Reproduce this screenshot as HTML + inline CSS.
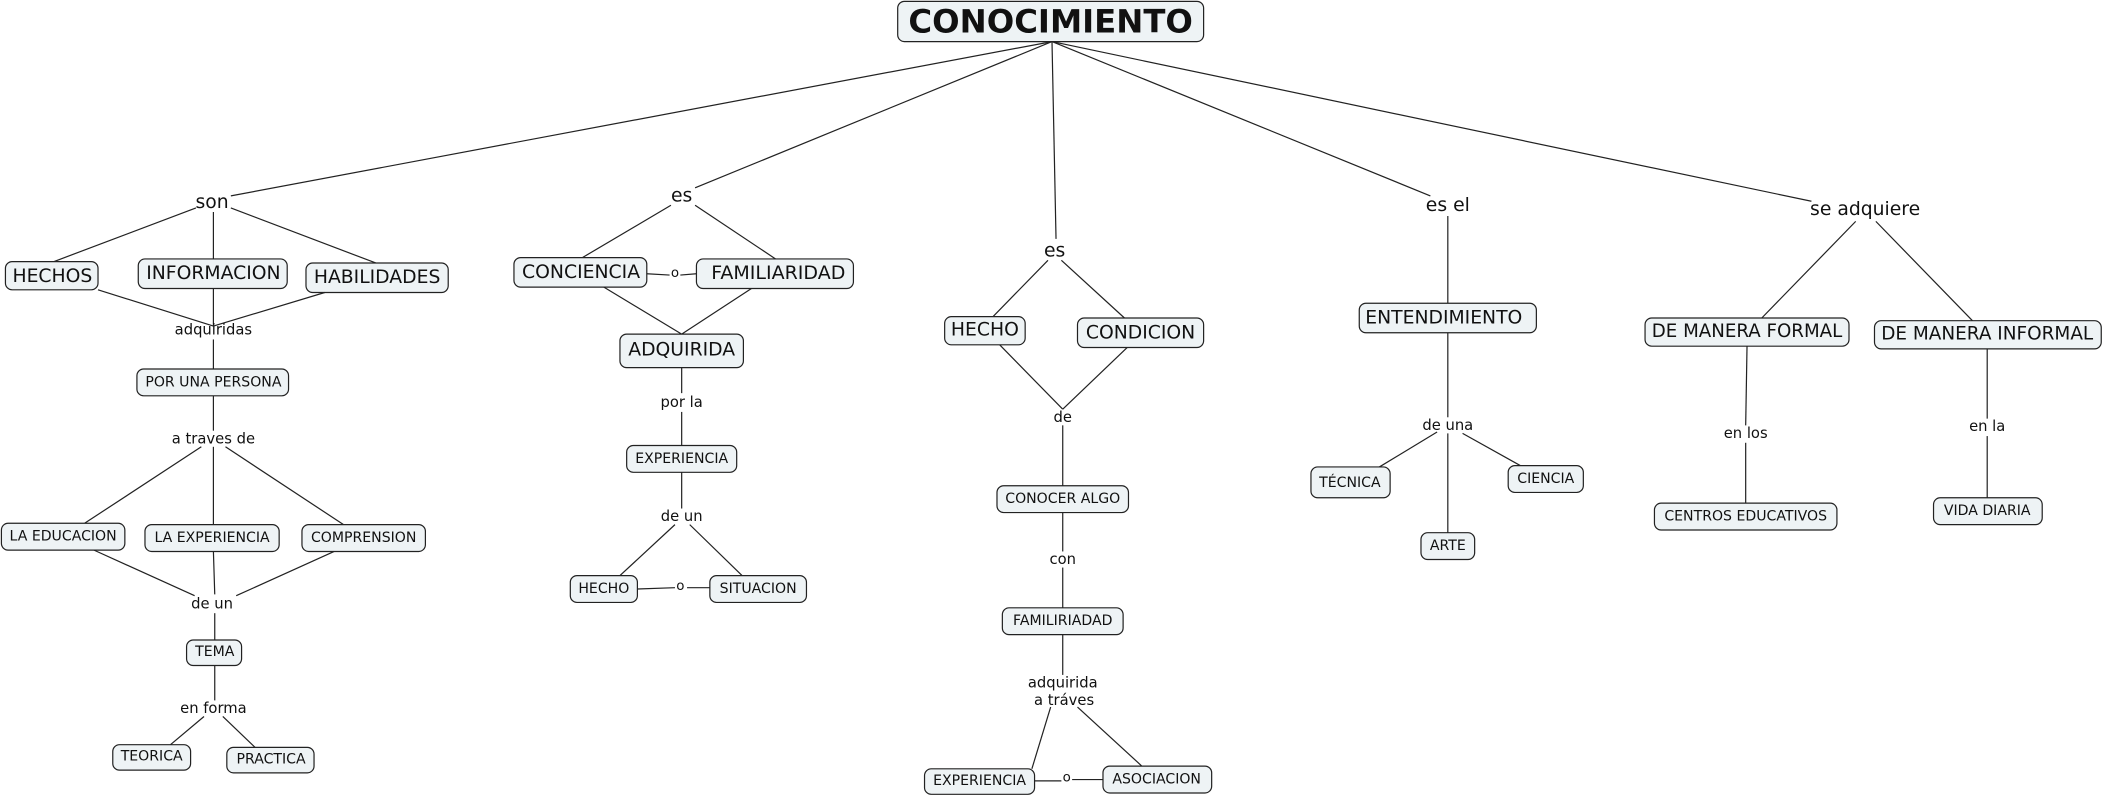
<!DOCTYPE html>
<html><head><meta charset="utf-8"><style>
html,body{margin:0;padding:0;background:#fff;}
svg{display:block;}
text{font-family:"DejaVu Sans","Liberation Sans",sans-serif;fill:#111;text-anchor:middle;dominant-baseline:central;}
rect{fill:#eef3f5;stroke:#222;stroke-width:0.9;}
line{stroke:#222;stroke-width:0.9;}
</style></head><body>
<svg width="2104" height="797" viewBox="0 0 1568 594" xmlns="http://www.w3.org/2000/svg">
<line x1="784" y1="31" x2="172" y2="146"/>
<line x1="784" y1="31" x2="518" y2="140"/>
<line x1="784" y1="31" x2="787" y2="178"/>
<line x1="784" y1="31" x2="1066" y2="146"/>
<line x1="784" y1="31" x2="1350" y2="150"/>
<rect x="669" y="1" width="228" height="30" rx="5"/>
<text x="783" y="16" style="font-size:24px;font-weight:bold" textLength="212" lengthAdjust="spacingAndGlyphs">CONOCIMIENTO</text>

<text x="158" y="151" style="font-size:14px">son</text>
<line x1="146" y1="155" x2="40" y2="195"/>
<line x1="159" y1="158" x2="159" y2="193"/>
<line x1="172" y1="155" x2="280" y2="196"/>
<rect x="4" y="195" width="69" height="21" rx="5"/><text x="39" y="206" style="font-size:14px">HECHOS</text>
<rect x="103" y="193" width="111" height="22" rx="5"/><text x="159" y="204" style="font-size:14px">INFORMACION</text>
<rect x="228" y="196" width="106" height="22" rx="5"/><text x="281" y="207" style="font-size:14px">HABILIDADES</text>
<line x1="73" y1="216" x2="159" y2="243"/>
<line x1="159" y1="215" x2="159" y2="243"/>
<line x1="242" y1="218" x2="159" y2="243"/>
<text x="159" y="246" style="font-size:11px">adquiridas</text>
<line x1="159" y1="253" x2="159" y2="275"/>
<rect x="102" y="275" width="113" height="20" rx="5"/><text x="159" y="285" style="font-size:10.5px">POR UNA PERSONA</text>
<line x1="159" y1="295" x2="159" y2="321"/>
<text x="159" y="327" style="font-size:11px">a traves de</text>
<line x1="150" y1="333" x2="63" y2="390"/>
<line x1="159" y1="333" x2="159" y2="391"/>
<line x1="168" y1="333" x2="256" y2="391"/>
<rect x="1" y="390" width="92" height="20" rx="5"/><text x="47" y="400" style="font-size:10.5px">LA EDUCACION</text>
<rect x="108" y="391" width="100" height="20" rx="5"/><text x="158" y="401" style="font-size:10.5px">LA EXPERIENCIA</text>
<rect x="225" y="391" width="92" height="20" rx="5"/><text x="271" y="401" style="font-size:10.5px">COMPRENSION</text>
<line x1="70" y1="410" x2="145" y2="444"/>
<line x1="159" y1="411" x2="160" y2="443"/>
<line x1="249" y1="411" x2="176" y2="444"/>
<text x="158" y="450" style="font-size:11px">de un</text>
<line x1="160" y1="457" x2="160" y2="477"/>
<rect x="139" y="477" width="41" height="19" rx="5"/><text x="160" y="486" style="font-size:10.5px">TEMA</text>
<line x1="160" y1="496" x2="160" y2="522"/>
<text x="159" y="528" style="font-size:11px">en forma</text>
<line x1="152" y1="534" x2="127" y2="555"/>
<line x1="166" y1="534" x2="190" y2="557"/>
<rect x="84" y="555" width="58" height="19" rx="5"/><text x="113" y="564" style="font-size:10.5px">TEORICA</text>
<rect x="169" y="557" width="65" height="19" rx="5"/><text x="202" y="566" style="font-size:10.5px">PRACTICA</text>

<text x="508" y="146" style="font-size:14px">es</text>
<line x1="500" y1="153" x2="434" y2="192"/>
<line x1="518" y1="153" x2="578" y2="193"/>
<rect x="383" y="192" width="99" height="22" rx="5"/><text x="433" y="203" style="font-size:14px" textLength="88" lengthAdjust="spacingAndGlyphs">CONCIENCIA</text>
<rect x="519" y="193" width="117" height="22" rx="5"/><text x="580" y="204" style="font-size:14px" textLength="100" lengthAdjust="spacingAndGlyphs">FAMILIARIDAD</text>
<line x1="482" y1="204" x2="499" y2="205"/><line x1="507" y1="205" x2="519" y2="204"/>
<text x="503" y="204" style="font-size:10px">o</text>
<line x1="450" y1="214" x2="508" y2="249"/>
<line x1="560" y1="215" x2="508" y2="249"/>
<rect x="462" y="249" width="92" height="25" rx="5"/><text x="508" y="261" style="font-size:14px">ADQUIRIDA</text>
<line x1="508" y1="274" x2="508" y2="293"/>
<text x="508" y="300" style="font-size:11px">por la</text>
<line x1="508" y1="307" x2="508" y2="332"/>
<rect x="467" y="332" width="82" height="20" rx="5"/><text x="508" y="342" style="font-size:10.5px">EXPERIENCIA</text>
<line x1="508" y1="352" x2="508" y2="379"/>
<text x="508" y="385" style="font-size:11px">de un</text>
<line x1="503" y1="391" x2="462" y2="429"/>
<line x1="514" y1="391" x2="553" y2="429"/>
<rect x="425" y="429" width="50" height="20" rx="5"/><text x="450" y="439" style="font-size:10.5px">HECHO</text>
<rect x="529" y="429" width="72" height="20" rx="5"/><text x="565" y="439" style="font-size:10.5px">SITUACION</text>
<line x1="475" y1="439" x2="503" y2="438"/><line x1="512" y1="438" x2="529" y2="438"/>
<text x="507" y="437" style="font-size:10px">o</text>

<text x="786" y="187" style="font-size:14px">es</text>
<line x1="781" y1="194" x2="740" y2="236"/>
<line x1="791" y1="194" x2="838" y2="237"/>
<rect x="704" y="236" width="60" height="21" rx="5"/><text x="734" y="246" style="font-size:14px">HECHO</text>
<rect x="803" y="237" width="94" height="22" rx="5"/><text x="850" y="248" style="font-size:14px">CONDICION</text>
<line x1="745" y1="257" x2="792" y2="305"/>
<line x1="840" y1="259" x2="792" y2="305"/>
<text x="792" y="311" style="font-size:11px">de</text>
<line x1="792" y1="317" x2="792" y2="362"/>
<rect x="743" y="362" width="98" height="20" rx="5"/><text x="792" y="372" style="font-size:10.5px">CONOCER ALGO</text>
<line x1="792" y1="382" x2="792" y2="411"/>
<text x="792" y="417" style="font-size:11px">con</text>
<line x1="792" y1="423" x2="792" y2="453"/>
<rect x="747" y="453" width="90" height="20" rx="5"/><text x="792" y="463" style="font-size:10.5px">FAMILIRIADAD</text>
<line x1="792" y1="473" x2="792" y2="503"/>
<text x="792" y="509" style="font-size:11px">adquirida</text>
<text x="793" y="522" style="font-size:11px">a tráves</text>
<line x1="783" y1="527" x2="769" y2="573"/>
<line x1="803" y1="527" x2="851" y2="571"/>
<rect x="689" y="573" width="82" height="19" rx="5"/><text x="730" y="582" style="font-size:10.5px">EXPERIENCIA</text>
<rect x="822" y="571" width="81" height="20" rx="5"/><text x="862" y="581" style="font-size:10.5px">ASOCIACION</text>
<line x1="771" y1="582" x2="791" y2="582"/><line x1="799" y1="581" x2="822" y2="581"/>
<text x="795" y="580" style="font-size:10px">o</text>

<text x="1079" y="153" style="font-size:14px">es el</text>
<line x1="1079" y1="161" x2="1079" y2="226"/>
<rect x="1013" y="226" width="132" height="22" rx="5"/><text x="1076" y="237" style="font-size:14px">ENTENDIMIENTO</text>
<line x1="1079" y1="248" x2="1079" y2="311"/>
<text x="1079" y="317" style="font-size:11px">de una</text>
<line x1="1071" y1="322" x2="1028" y2="348"/>
<line x1="1079" y1="323" x2="1079" y2="397"/>
<line x1="1090" y1="323" x2="1133" y2="347"/>
<rect x="977" y="348" width="59" height="23" rx="5"/><text x="1006" y="360" style="font-size:10.5px">TÉCNICA</text>
<rect x="1059" y="397" width="40" height="20" rx="5"/><text x="1079" y="407" style="font-size:10.5px">ARTE</text>
<rect x="1124" y="347" width="56" height="20" rx="5"/><text x="1152" y="357" style="font-size:10.5px">CIENCIA</text>

<text x="1390" y="156" style="font-size:14px">se adquiere</text>
<line x1="1383" y1="165" x2="1313" y2="237"/>
<line x1="1398" y1="165" x2="1470" y2="239"/>
<rect x="1226" y="237" width="152" height="21" rx="5"/><text x="1302" y="247" style="font-size:14px" textLength="142" lengthAdjust="spacingAndGlyphs">DE MANERA FORMAL</text>
<rect x="1397" y="239" width="169" height="21" rx="5"/><text x="1481" y="249" style="font-size:14px" textLength="158" lengthAdjust="spacingAndGlyphs">DE MANERA INFORMAL</text>
<line x1="1302" y1="258" x2="1301" y2="317"/>
<text x="1301" y="323" style="font-size:11px">en los</text>
<line x1="1301" y1="330" x2="1301" y2="375"/>
<rect x="1233" y="375" width="136" height="20" rx="5"/><text x="1301" y="385" style="font-size:10.5px">CENTROS EDUCATIVOS</text>
<line x1="1481" y1="260" x2="1481" y2="312"/>
<text x="1481" y="318" style="font-size:11px">en la</text>
<line x1="1481" y1="325" x2="1481" y2="371"/>
<rect x="1441" y="371" width="81" height="20" rx="5"/><text x="1481" y="381" style="font-size:10.5px">VIDA DIARIA</text>
</svg>
</body></html>
